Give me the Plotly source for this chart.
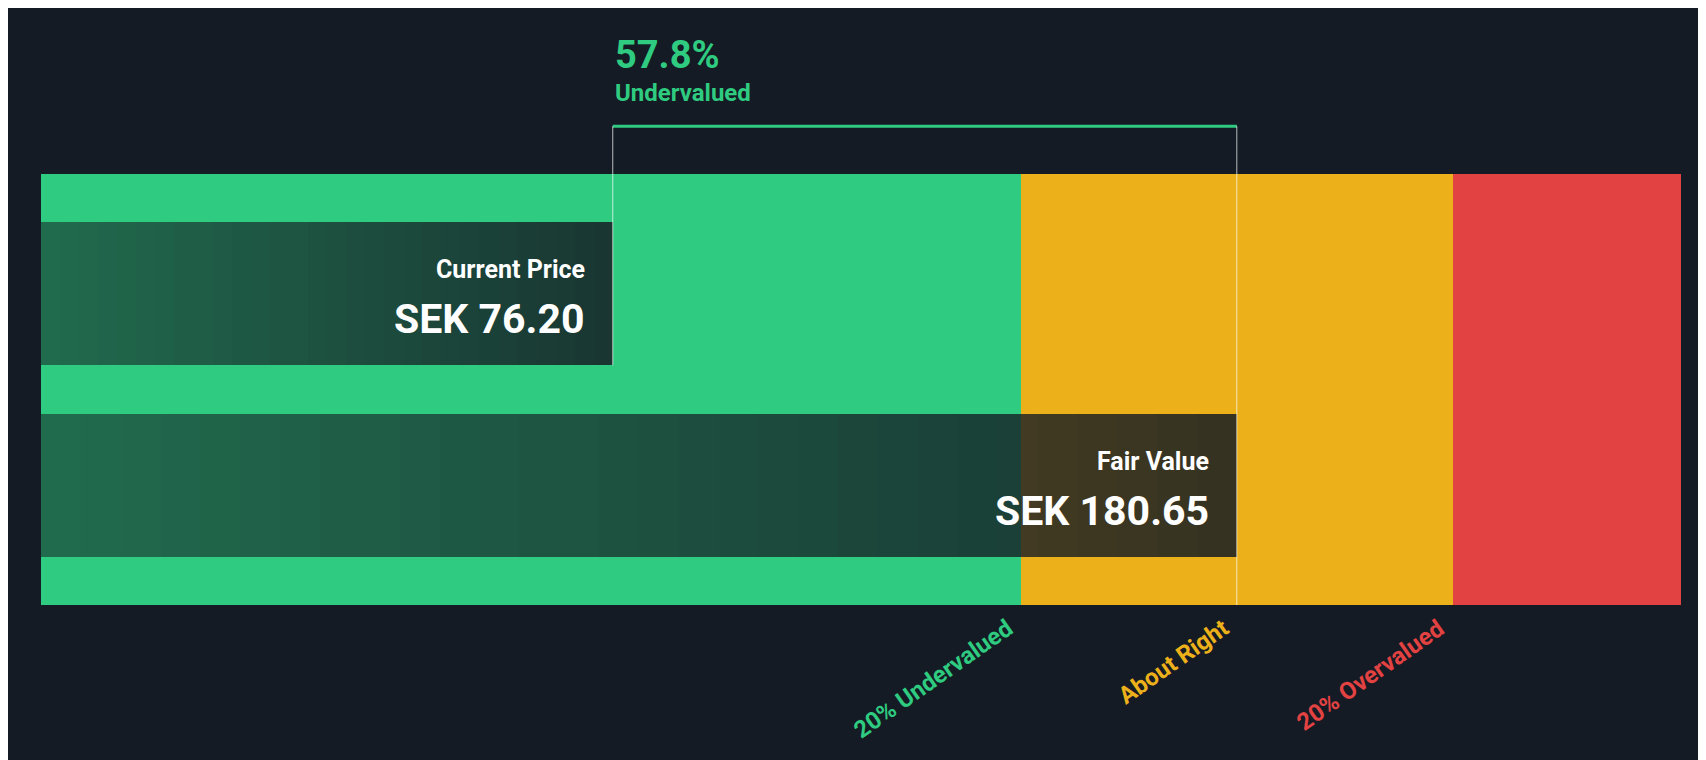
import plotly.graph_objects as go

current_price = 76.20
fair_value = 180.65
axis_min, axis_max = -19.5, 255.0
zone_names = ["20% Undervalued", "About Right", "20% Overvalued"]
zone_ends = [fair_value * 0.8, fair_value * 1.2, axis_max]
zone_colors = ["#2ecb80", "#ecb11a", "#e34242"]
label_colors = ["#2ecb80", "#ecb11a", "#e34242"]
bg = "#151b24"

fig = go.Figure()
starts = [axis_min, zone_ends[0], zone_ends[1]]
for s, e, c in zip(starts, zone_ends, zone_colors):
    fig.add_trace(go.Bar(x=[e - s], base=[s], y=[0.5], width=[1.0], orientation="h",
                         marker=dict(color=c, line_width=0), hoverinfo="skip"))

nseg = 30
for val, yc in [(current_price, 0.7225), (fair_value, 0.2775)]:
    w = (val - axis_min) / nseg
    for i in range(nseg):
        op = 0.55 + 0.3 * i / (nseg - 1)
        fig.add_trace(go.Bar(x=[w], base=[axis_min + i * w], y=[yc], width=[0.333], orientation="h",
                             marker=dict(color=f"rgba(22,28,36,{op:.3f})", line_width=0), hoverinfo="skip"))

fig.update_layout(
    barmode="overlay", bargap=0, showlegend=False,
    width=1706, height=760, paper_bgcolor=bg, plot_bgcolor=bg,
    margin=dict(l=33, r=33, t=166, b=163),
    xaxis=dict(range=[axis_min, axis_max], visible=False, fixedrange=True),
    yaxis=dict(range=[0, 1], visible=False, fixedrange=True),
    font=dict(family="Roboto", color="white"),
)

fig.add_shape(type="line", xref="x", yref="paper", x0=current_price, x1=fair_value, y0=1.111, y1=1.111,
              line=dict(color="#2ecb80", width=3))
fig.add_shape(type="line", xref="x", yref="paper", x0=current_price, x1=current_price, y0=1.111, y1=0.556,
              line=dict(color="rgba(255,255,255,0.7)", width=1))
fig.add_shape(type="line", xref="x", yref="paper", x0=fair_value, x1=fair_value, y0=1.111, y1=0.0,
              line=dict(color="rgba(255,255,255,0.7)", width=1))

pct = (fair_value - current_price) / fair_value * 100
fig.add_annotation(x=current_price, y=1.275, xref="x", yref="paper", xanchor="left", yanchor="middle",
                   text=f"<b>{pct:.1f}%</b>", showarrow=False, font=dict(size=38, color="#2ecb80"))
fig.add_annotation(x=current_price, y=1.188, xref="x", yref="paper", xanchor="left", yanchor="middle",
                   text="<b>Undervalued</b>", showarrow=False, font=dict(size=24, color="#2ecb80"))

for val, ytop, name in [(current_price, 0.889, "Current Price"), (fair_value, 0.444, "Fair Value")]:
    fig.add_annotation(x=val, y=ytop - 0.11, xref="x", yref="paper", xanchor="right", yanchor="middle",
                       xshift=-26, text=f"<b>{name}</b>", showarrow=False, font=dict(size=25, color="white"))
    fig.add_annotation(x=val, y=ytop - 0.225, xref="x", yref="paper", xanchor="right", yanchor="middle",
                       xshift=-26, text=f"<b>SEK {val:.2f}</b>", showarrow=False, font=dict(size=41, color="white"))

for e, n, c in zip([fair_value * 0.8, fair_value, fair_value * 1.2], zone_names, label_colors):
    fig.add_annotation(x=e, y=-0.015, xref="x", yref="paper", xanchor="right", yanchor="top",
                       text=f"<b>{n}</b>", textangle=-35, showarrow=False, font=dict(size=24, color=c))

fig.write_html("out.html")
